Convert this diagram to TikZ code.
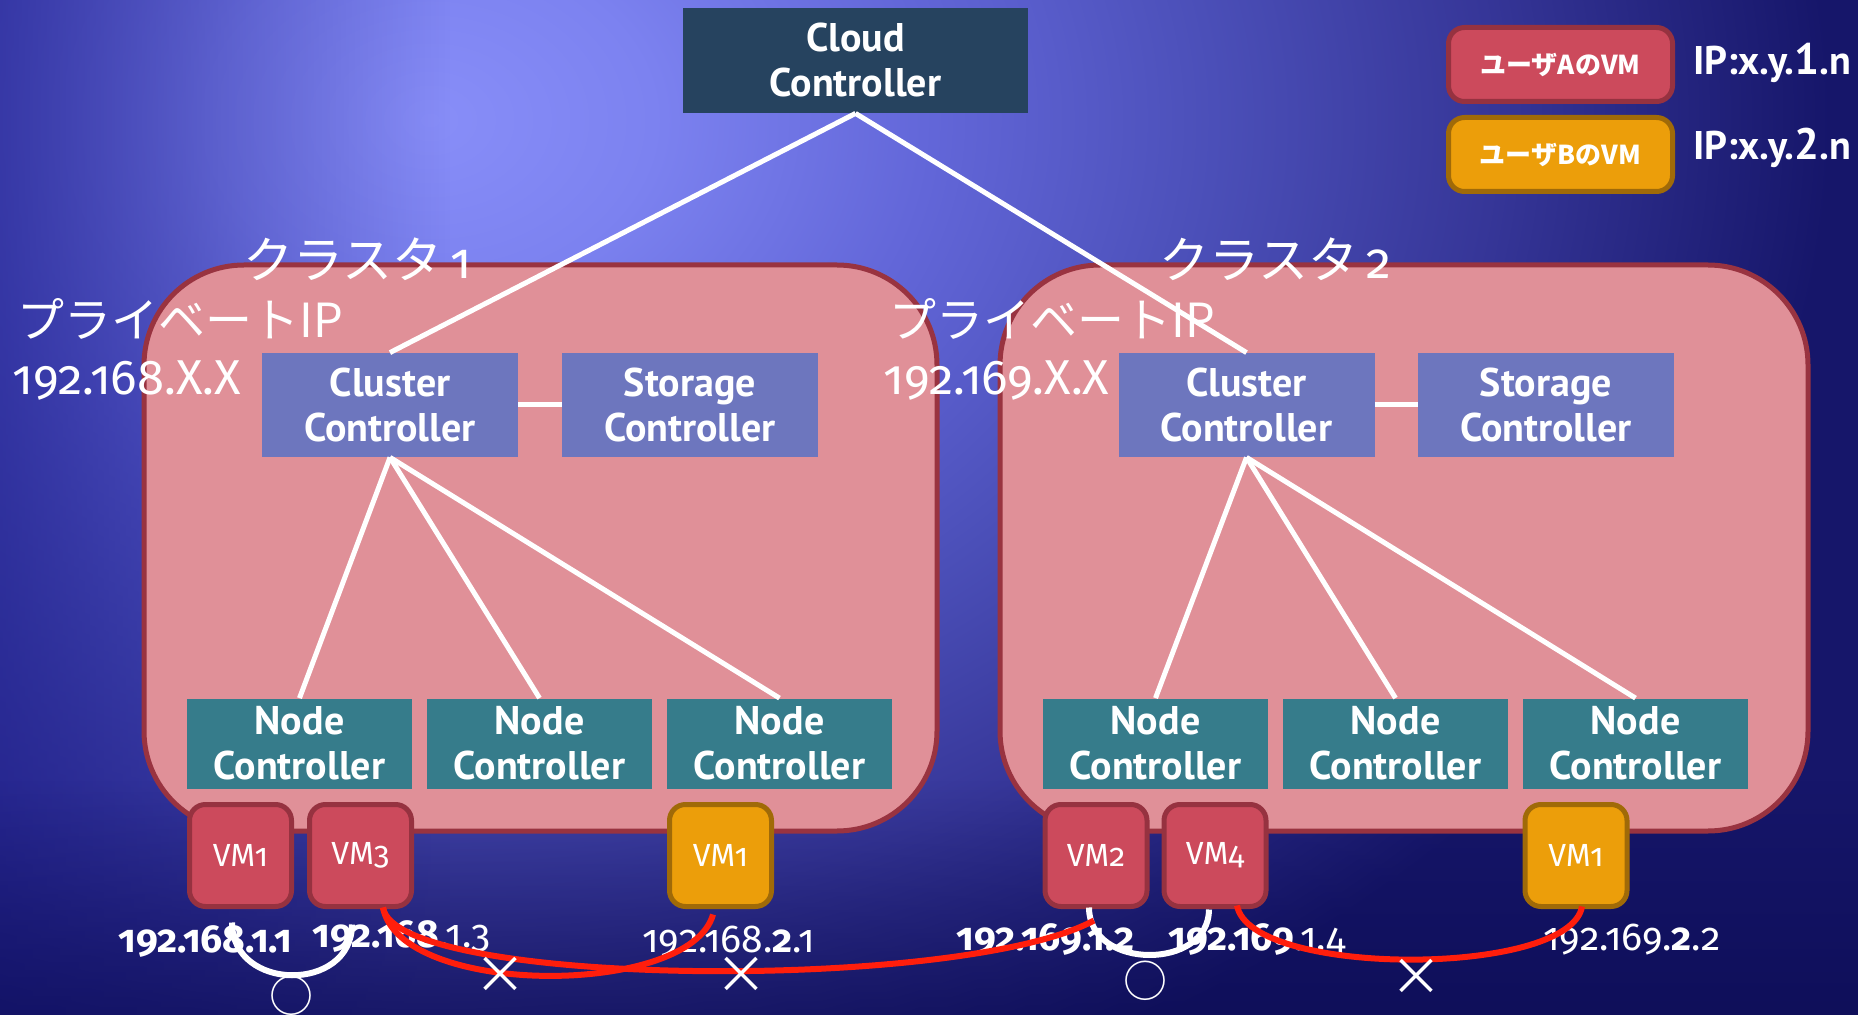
\documentclass[tikz,border=0pt]{standalone}
\usepackage{fontspec}
\setmainfont{Fira Sans}[Numbers=OldStyle]
\newfontfamily\ctlfont{PT Sans}
\newfontfamily\jpfont{Noto Sans CJK JP}
\usetikzlibrary{fadings}

\definecolor{bgA}{HTML}{888EF8}
\definecolor{bgB}{HTML}{7C82F0}
\definecolor{bgC}{HTML}{6266D8}
\definecolor{bgD}{HTML}{4B4FB8}
\definecolor{bgE}{HTML}{363698}
\definecolor{bgF}{HTML}{16166A}
\definecolor{bgL}{HTML}{1C1C88}
\definecolor{bgBot}{HTML}{08084A}
\definecolor{cloudC}{HTML}{26435F}
\definecolor{ccC}{HTML}{6D76BE}
\definecolor{ncC}{HTML}{367C8B}
\definecolor{pinkFill}{HTML}{E09098}
\definecolor{pinkDraw}{HTML}{993340}
\definecolor{vmAFill}{HTML}{CC4A5C}
\definecolor{vmADraw}{HTML}{963240}
\definecolor{vmBFill}{HTML}{EC9E0A}
\definecolor{vmBDraw}{HTML}{A06A08}
\definecolor{redLine}{HTML}{FF1E0C}

\pgfdeclareradialshading{bgrad}{\pgfpoint{0bp}{0bp}}{color(0bp)=(bgA); color(4bp)=(bgB); color(9bp)=(bgC); color(14bp)=(bgD); color(19bp)=(bgE); color(25bp)=(bgF); color(50bp)=(bgF)}
\tikzfading[name=fadeL, left color=transparent!35, right color=transparent!100]
\tikzfading[name=fadeBot, top color=transparent!100, bottom color=transparent!50]

\begin{document}
\begin{tikzpicture}[x=0.5pt,y=-0.5pt,
  ctrl/.style={text=white, font=\ctlfont\bfseries\fontsize{20}{22.5}\selectfont, align=center, inner sep=0pt},
  cloudbox/.style={ctrl, fill=cloudC, minimum width=172.5pt, minimum height=52.5pt},
  ccbox/.style={ctrl, fill=ccC, minimum width=128pt, minimum height=52pt},
  ncbox/.style={ctrl, fill=ncC, minimum width=112.5pt, minimum height=45pt},
  vm/.style={line width=2.5pt, rounded corners=8pt, minimum width=51pt, minimum height=51pt, text=white, font=\fontsize{16}{18}\selectfont, inner sep=0pt},
  vmA/.style={vm, fill=vmAFill, draw=vmADraw},
  vmB/.style={vm, fill=vmBFill, draw=vmBDraw},
  legbox/.style={line width=2.5pt, rounded corners=8pt, minimum width=112pt, minimum height=37pt, text=white, font=\jpfont\bfseries\fontsize{13}{15}\selectfont, inner sep=0pt},
  clusterbox/.style={fill=pinkFill, draw=pinkDraw, line width=2.5pt, rounded corners=50pt},
  wline/.style={white, line width=2.5pt},
  rline/.style={redLine, line width=3pt},
  warc/.style={white, line width=3pt},
  iplab/.style={text=white, font=\fontsize{19.5}{22}\selectfont, anchor=base west, inner sep=0pt},
  jplab/.style={text=white, anchor=base west, inner sep=0pt},
  symb/.style={text=white, font=\jpfont\fontsize{22}{24}\selectfont, inner sep=0pt},
  cross/.style={text=white, font=\jpfont\fontsize{26}{28}\selectfont, inner sep=0pt, text height=14pt, text depth=-4pt}
]
\useasboundingbox (0,0) rectangle (1858,1015);
% background
\fill[bgF] (0,0) rectangle (1858,1015);
\begin{scope}
  \clip (0,0) rectangle (1858,1015);
  \shade[shading=bgrad] (-970,-930) rectangle (1830,1170);
  \fill[bgL, path fading=fadeL] (0,0) rectangle (450,1015);
  \fill[bgBot, path fading=fadeBot] (0,780) rectangle (1858,1015);
\end{scope}

% clusters
\draw[clusterbox] (144,265) rectangle (937,831);
\draw[clusterbox] (1000,265) rectangle (1808,831);

% boxes
\node[cloudbox] (cloud) at (855.5,60.5) {Cloud\\Controller};
\node[ccbox] (cc1) at (390,405) {Cluster\\Controller};
\node[ccbox] (sc1) at (690,405) {Storage\\Controller};
\node[ccbox] (cc2) at (1246.5,405) {Cluster\\Controller};
\node[ccbox] (sc2) at (1546,405) {Storage\\Controller};
\node[ncbox] (n11) at (299.5,743.5) {Node\\Controller};
\node[ncbox] (n12) at (539.5,743.5) {Node\\Controller};
\node[ncbox] (n13) at (779.5,743.5) {Node\\Controller};
\node[ncbox] (n21) at (1155.5,743.5) {Node\\Controller};
\node[ncbox] (n22) at (1395.5,743.5) {Node\\Controller};
\node[ncbox] (n23) at (1635.5,743.5) {Node\\Controller};

% tree lines
\draw[wline] (cloud.south) -- (cc1.north);
\draw[wline] (cloud.south) -- (cc2.north);
\draw[wline] (cc1.east) -- (sc1.west);
\draw[wline] (cc2.east) -- (sc2.west);
\draw[wline] (cc1.south) -- (n11.north);
\draw[wline] (cc1.south) -- (n12.north);
\draw[wline] (cc1.south) -- (n13.north);
\draw[wline] (cc2.south) -- (n21.north);
\draw[wline] (cc2.south) -- (n22.north);
\draw[wline] (cc2.south) -- (n23.north);

% VMs
\node[vmA] (vm1) at (240.5,855.5) {VM1};
\node[vmA] (vm3) at (360.5,855.5) {VM3};
\node[vmB] (vmy1) at (720.5,855.5) {VM1};
\node[vmA] (vm2) at (1096,855.5) {VM2};
\node[vmA] (vm4) at (1215,855.5) {VM4};
\node[vmB] (vmy2) at (1576,855.5) {VM1};

% legend
\node[legbox, fill=vmAFill, draw=vmADraw] (legA) at (1560.5,64.5) {ユーザAのVM};
\node[legbox, fill=vmBFill, draw=vmBDraw] (legB) at (1560.5,154.5) {ユーザBのVM};
\node[ctrl, anchor=base west] (ipA) at (1693,75) {IP:x.y.{\fontsize{22}{24}\selectfont 1}.n};
\node[ctrl, anchor=base west] (ipB) at (1693,160) {IP:x.y.{\fontsize{22}{24}\selectfont 2}.n};

% labels
\node[jplab, font=\fontsize{25}{27}\selectfont] (cl1) at (243,279) {{\jpfont クラスタ}\,1};
\node[jplab, font=\fontsize{25}{27}\selectfont] (cl2) at (1159,279) {{\jpfont クラスタ}\,2};
\node[jplab, font=\jpfont\fontsize{23.5}{25}\selectfont] (pr1) at (17,338) {プライベートIP};
\node[jplab, font=\jpfont\fontsize{23.5}{25}\selectfont] (pr2) at (889,338) {プライベートIP};
\node[jplab, font=\fontsize{24.5}{27}\selectfont] (net1) at (12,395) {192.168.X.X};
\node[jplab, font=\fontsize{24.5}{27}\selectfont] (net2) at (883,395) {192.169.X.X};

\node[iplab] (ip1) at (118,952) {\textbf{192.168.1.1}};
\node[iplab] (ip3) at (312,947) {\textbf{192.168}.1.3};
\node[iplab] (ipy1) at (642,952) {192.168.\textbf{2}.1};
\node[iplab] (ip2) at (956,950) {\textbf{192.169.1.2}};
\node[iplab] (ip4) at (1168,950) {\textbf{192.169}.1.4};
\node[iplab] (ipy2) at (1543,950) {192.169.\textbf{2}.2};

% connection arcs
\draw[warc] ([shift={(-8.5,13.5)}]vm1.south) .. controls +(0,70) and +(0,68) .. ([shift={(-8.5,15.5)}]vm3.south);
\draw[warc] ([shift={(-7,-1.5)}]vm2.south) .. controls +(0,63) and +(0,61) .. ([shift={(-6,0.5)}]vm4.south);
\draw[rline] ([shift={(22.5,-1.5)}]vm3.south) .. controls +(17,90) and +(-23,83) .. ([shift={(-7.5,5.5)}]vmy1.south);
\draw[rline] ([shift={(22.5,-1.5)}]vm3.south) .. controls +(12,80) and +(-134,72) .. ([shift={(-2,11.5)}]vm2.south);
\draw[rline] ([shift={(22,-3.5)}]vm4.south) .. controls +(13,72) and +(-12,71) .. ([shift={(6,-2.5)}]vmy2.south);

% symbols
\node[symb] (ok1) at (291,996) {○};
\node[symb] (ok2) at (1145,981) {○};
\node[cross] (ng1) at (500,979) {×};
\node[cross] (ng2) at (741,979) {×};
\node[cross] (ng3) at (1416,981) {×};
\end{tikzpicture}
\end{document}
